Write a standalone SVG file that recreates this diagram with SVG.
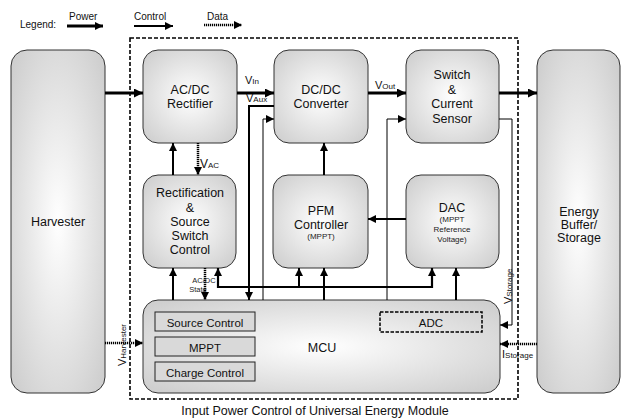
<svg xmlns="http://www.w3.org/2000/svg" width="624" height="419" viewBox="0 0 624 419">
<defs>
<radialGradient id="g" cx="50%" cy="50%" r="65%">
<stop offset="0" stop-color="#ffffff"/>
<stop offset="1" stop-color="#cfcfcf"/>
</radialGradient>
<marker id="a" markerUnits="userSpaceOnUse" markerWidth="10" markerHeight="9" refX="9" refY="4.5" orient="auto"><path d="M0,0 L9,4.5 L0,9 z" fill="#000"/></marker>
<marker id="as" markerUnits="userSpaceOnUse" markerWidth="9" markerHeight="8" refX="8" refY="4" orient="auto"><path d="M0,0 L8,4 L0,8 z" fill="#000"/></marker>
</defs>
<style>
.box{fill:url(#g);stroke:#333;stroke-width:1}
.t{font-family:"Liberation Sans",Arial,sans-serif;font-size:12.5px;fill:#111;text-anchor:middle}
.s{font-family:"Liberation Sans",Arial,sans-serif;font-size:8px;fill:#222;text-anchor:middle}
.l{font-family:"Liberation Sans",Arial,sans-serif;font-size:11px;fill:#111}
.sub{font-size:8px}
.pw{stroke:#000;stroke-width:3;fill:none}
.ct{stroke:#000;stroke-width:2;fill:none}
.th{stroke:#000;stroke-width:1;fill:none}
.dt{stroke:#000;stroke-width:2.5;stroke-dasharray:1.2,0.8;fill:none}
.in{fill:#d9d9d9;stroke:#222;stroke-width:1}
</style>
<rect width="624" height="419" fill="#fff"/>

<g id="legend">
<text class="l" x="20" y="28" style="font-size:10px">Legend:</text>
<text class="l" x="69" y="20" style="font-size:10px">Power</text>
<line class="pw" x1="67" y1="26" x2="103" y2="26" marker-end="url(#as)"/>
<text class="l" x="134" y="20" style="font-size:10px">Control</text>
<line class="ct" x1="134" y1="26" x2="173" y2="26" marker-end="url(#as)"/>
<text class="l" x="207" y="20" style="font-size:10px">Data</text>
<line class="dt" x1="204" y1="25" x2="242" y2="25" marker-end="url(#as)"/>
</g>

<g id="module-frame">
<rect x="130" y="38" width="388" height="361" fill="none" stroke="#000" stroke-width="1.6" stroke-dasharray="4,2"/>
</g>

<g id="harvester">
<rect class="box" x="11" y="50" width="94" height="343" rx="16"/>
<text class="t" x="58" y="226">Harvester</text>
</g>

<g id="energy-buffer">
<rect class="box" x="537" y="50" width="83" height="343" rx="16"/>
<text class="t" x="579" y="216">Energy</text>
<text class="t" x="579" y="229">Buffer/</text>
<text class="t" x="579" y="242">Storage</text>
</g>

<g id="acdc">
<rect class="box" x="143" y="50" width="94" height="93" rx="15"/>
<text class="t" x="190" y="94">AC/DC</text>
<text class="t" x="190" y="108">Rectifier</text>
</g>

<g id="dcdc">
<rect class="box" x="274" y="50" width="94" height="93" rx="15"/>
<text class="t" x="321" y="94">DC/DC</text>
<text class="t" x="321" y="108">Converter</text>
</g>

<g id="switch">
<rect class="box" x="406" y="50" width="93" height="93" rx="15"/>
<text class="t" x="452" y="79">Switch</text>
<text class="t" x="452" y="94">&amp;</text>
<text class="t" x="452" y="108">Current</text>
<text class="t" x="452" y="123">Sensor</text>
</g>

<g id="rectification">
<rect class="box" x="143" y="175" width="93" height="93" rx="15"/>
<text class="t" x="190" y="197">Rectification</text>
<text class="t" x="190" y="212">&amp;</text>
<text class="t" x="190" y="226">Source</text>
<text class="t" x="190" y="240">Switch</text>
<text class="t" x="190" y="254">Control</text>
</g>

<g id="pfm">
<rect class="box" x="273" y="175" width="95" height="93" rx="15"/>
<text class="t" x="321" y="215">PFM</text>
<text class="t" x="321" y="229">Controller</text>
<text class="s" x="321" y="239">(MPPT)</text>
</g>

<g id="dac">
<rect class="box" x="406" y="175" width="93" height="93" rx="15"/>
<text class="t" x="452" y="212">DAC</text>
<text class="s" x="452" y="222">(MPPT</text>
<text class="s" x="452" y="232">Reference</text>
<text class="s" x="452" y="242">Voltage)</text>
</g>

<g id="mcu">
<path class="box" d="M158,300 H484 A16,16 0 0 1 500,316 V378 A15,15 0 0 1 485,393 H158 A15,15 0 0 1 143,378 V315 A15,15 0 0 1 158,300 Z"/>
<text class="t" x="322" y="352">MCU</text>
<rect class="in" x="155" y="312" width="100" height="19"/>
<text class="t" x="205" y="327" style="font-size:11.5px">Source Control</text>
<rect class="in" x="155" y="337" width="100" height="19"/>
<text class="t" x="205" y="352" style="font-size:11.5px">MPPT</text>
<rect class="in" x="155" y="362" width="100" height="19"/>
<text class="t" x="205" y="377" style="font-size:11.5px">Charge Control</text>
<rect x="380" y="312" width="102" height="20" fill="none" stroke="#000" stroke-width="1.5" stroke-dasharray="3.5,1.5"/>
<text class="t" x="431" y="327" style="font-size:11.5px">ADC</text>
</g>

<g id="connectors">
<line class="pw" x1="105" y1="93" x2="143" y2="93" marker-end="url(#a)"/>
<line class="pw" x1="237" y1="93" x2="274" y2="93" marker-end="url(#a)"/>
<line class="pw" x1="368" y1="93" x2="406" y2="93" marker-end="url(#a)"/>
<line class="pw" x1="499" y1="93" x2="537" y2="93" marker-end="url(#a)"/>
<polyline class="ct" points="274,106 249,106 249,300" marker-end="url(#as)"/>
<polyline class="th" points="263,300 263,119 274,119" marker-end="url(#as)"/>
<polyline class="th" points="387,300 387,119 406,119" marker-end="url(#as)"/>
<polyline class="th" points="499,119 512,119 512,325 500,325" marker-end="url(#as)"/>
<line class="dt" x1="537" y1="344" x2="500" y2="344" marker-end="url(#as)"/>
<line class="dt" x1="105" y1="343" x2="143" y2="343" marker-end="url(#as)"/>
<line class="ct" x1="173" y1="175" x2="173" y2="143" marker-end="url(#as)"/>
<line class="dt" x1="198" y1="143" x2="198" y2="175" marker-end="url(#as)"/>
<line class="ct" x1="173" y1="300" x2="173" y2="268" marker-end="url(#as)"/>
<line class="dt" x1="205" y1="268" x2="205" y2="300" marker-end="url(#as)"/>
<line class="ct" x1="218" y1="288" x2="218" y2="268" marker-end="url(#as)" style="stroke-width:2.2"/>
<polyline class="ct" points="217,287 432,287 432,268" marker-end="url(#as)" style="stroke-width:2.2"/>
<line class="ct" x1="299" y1="287" x2="299" y2="268" marker-end="url(#as)"/>
<line class="ct" x1="324" y1="300" x2="324" y2="268" marker-end="url(#as)"/>
<line class="ct" x1="456" y1="300" x2="456" y2="268" marker-end="url(#as)"/>
<line class="ct" x1="324" y1="175" x2="324" y2="143" marker-end="url(#as)"/>
<line class="ct" x1="406" y1="219" x2="368" y2="219" marker-end="url(#as)"/>
</g>

<g id="labels">
<text class="l" x="245" y="84">V<tspan class="sub">In</tspan></text>
<text class="l" x="246" y="102">V<tspan class="sub">Aux</tspan></text>
<text class="l" x="375" y="89">V<tspan class="sub">Out</tspan></text>
<text class="l" x="200" y="168" style="font-size:12px">V<tspan class="sub">AC</tspan></text>
<text class="s" x="204" y="283" style="font-size:7.5px">AC/DC</text>
<text class="s" x="198" y="292" style="font-size:7.5px">State</text>
<text class="l" transform="translate(512,304) rotate(-90)">V<tspan class="sub">Storage</tspan></text>
<text class="l" transform="translate(126,366) rotate(-90)">V<tspan class="sub">Harvester</tspan></text>
<text class="l" x="502" y="358">I<tspan class="sub">Storage</tspan></text>
<text class="t" x="315" y="415">Input Power Control of Universal Energy Module</text>
</g>
</svg>
